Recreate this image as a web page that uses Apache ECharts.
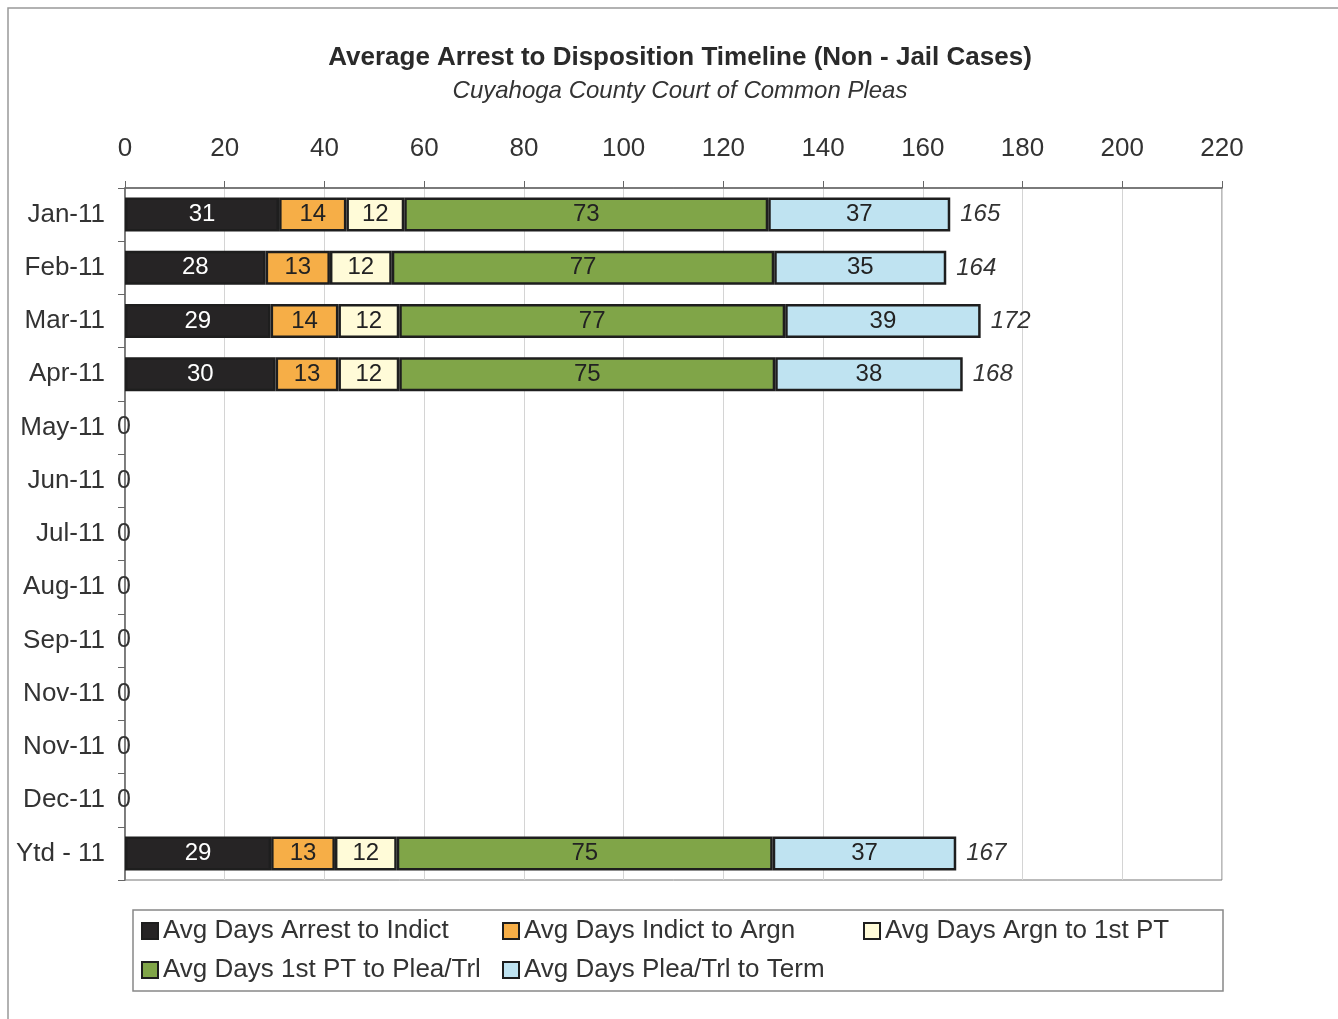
<!DOCTYPE html>
<html><head><meta charset="utf-8">
<script src="https://cdn.jsdelivr.net/npm/echarts@6/dist/echarts.min.js"></script>
<style>html,body{margin:0;padding:0;background:#fff}#c{width:1338px;height:1019px}</style>
</head><body><div id="c"></div>
<script>
const categories = ['Jan-11','Feb-11','Mar-11','Apr-11','May-11','Jun-11','Jul-11','Aug-11','Sep-11','Nov-11','Nov-11','Dec-11','Ytd - 11'];
const arrestToIndict = [30.9,28.2,29.2,30.2,null,null,null,null,null,null,null,null,29.3];
const indictToArgn   = [13.5,12.9,13.6,12.6,null,null,null,null,null,null,null,null,12.8];
const argnTo1stPT    = [11.6,12.4,12.2,12.2,null,null,null,null,null,null,null,null,12.4];
const firstPTToPlea  = [73.0,76.7,77.4,75.4,null,null,null,null,null,null,null,null,75.4];
const pleaToTerm     = [36.5,34.5,39.2,37.6,null,null,null,null,null,null,null,null,36.8];
const totals         = [165,164,172,168,0,0,0,0,0,0,0,0,167];
const xTicks = [0,20,40,60,80,100,120,140,160,180,200,220];

const FONT = '"Liberation Sans", Arial, sans-serif';
const segs = [
  {name:'Avg Days Arrest to Indict', data:arrestToIndict, color:'#262425', text:'#ffffff'},
  {name:'Avg Days Indict to Argn', data:indictToArgn, color:'#f6ae47', text:'#222'},
  {name:'Avg Days Argn to 1st PT', data:argnTo1stPT, color:'#fffbd8', text:'#222'},
  {name:'Avg Days 1st PT to Plea/Trl', data:firstPTToPlea, color:'#80a548', text:'#222'},
  {name:'Avg Days Plea/Trl to Term', data:pleaToTerm, color:'#bfe3f1', text:'#222'}
];
const series = segs.map(s => ({
  name: s.name, type: 'bar', stack: 'total', barWidth: 34,
  data: s.data,
  itemStyle: {color: s.color, borderColor: '#1e1e1e', borderWidth: 2.5},
  label: {show: true, position: 'inside', color: s.text, fontFamily: FONT, fontSize: 24,
    formatter: p => (p.value == null || p.value === 0) ? '' : String(Math.round(p.value))},
  emphasis: {disabled: true}
}));
series.push({
  name: 'Total', type: 'bar', stack: 'total', barWidth: 34,
  data: totals.map(t => t === 0
    ? {value: 0, label: {distance: 0, offset: [-8, 0], fontStyle: 'normal', fontSize: 25}}
    : {value: 0}),
  itemStyle: {color: 'transparent', borderWidth: 0},
  label: {show: true, position: 'right', distance: 10, color: '#333', fontFamily: FONT,
    fontSize: 24, fontStyle: 'italic', formatter: p => String(totals[p.dataIndex])},
  emphasis: {disabled: true}
});

const chart = echarts.init(document.getElementById('c'));
chart.setOption({
  backgroundColor: '#fff',
  animation: false,
  title: {
    text: 'Average Arrest to Disposition Timeline (Non - Jail Cases)',
    subtext: 'Cuyahoga County Court of Common Pleas',
    left: 675, textAlign: 'center', top: 40, itemGap: 8,
    textStyle: {fontFamily: FONT, fontSize: 26, fontWeight: 'bold', color: '#2a2a2a'},
    subtextStyle: {fontFamily: FONT, fontSize: 24, fontStyle: 'italic', color: '#333'}
  },
  graphic: [{type: 'rect', shape: {x: 8, y: 8, width: 1340, height: 1030},
    style: {fill: 'none', stroke: '#999', lineWidth: 1.5}, silent: true}],
  legend: {
    data: segs.map(s => s.name),
    left: 133, top: 910, width: 1085,
    padding: [6, 8, 6, 8],
    borderColor: '#888', borderWidth: 1.5,
    itemWidth: 16, itemHeight: 16, itemGap: 9,
    icon: 'rect',
    itemStyle: {borderColor: '#1e1e1e', borderWidth: 2},
    textStyle: {fontFamily: FONT, fontSize: 26, color: '#333', width: 330, lineHeight: 30, padding: [0,0,0,0]},
    selectedMode: false
  },
  grid: {left: 125, right: 116, top: 188, bottom: 139, show: true, borderColor: '#777', borderWidth: 1},
  xAxis: {
    type: 'value', position: 'top', min: 0, max: 220, interval: 20,
    axisLine: {show: true, lineStyle: {color: '#666', width: 1.5}},
    axisTick: {show: true, length: 7, lineStyle: {color: '#666'}},
    axisLabel: {fontFamily: FONT, fontSize: 26, color: '#333', margin: 26,
      formatter: v => xTicks.includes(v) ? String(v) : ''},
    splitLine: {show: true, lineStyle: {color: '#d4d4d4', width: 1}}
  },
  yAxis: {
    type: 'category', inverse: true, data: categories,
    axisLine: {show: true, lineStyle: {color: '#666', width: 1.5}},
    axisTick: {show: true, length: 7, lineStyle: {color: '#666'}},
    axisLabel: {fontFamily: FONT, fontSize: 26, color: '#333', margin: 20}
  },
  series: series
});
</script></body></html>
